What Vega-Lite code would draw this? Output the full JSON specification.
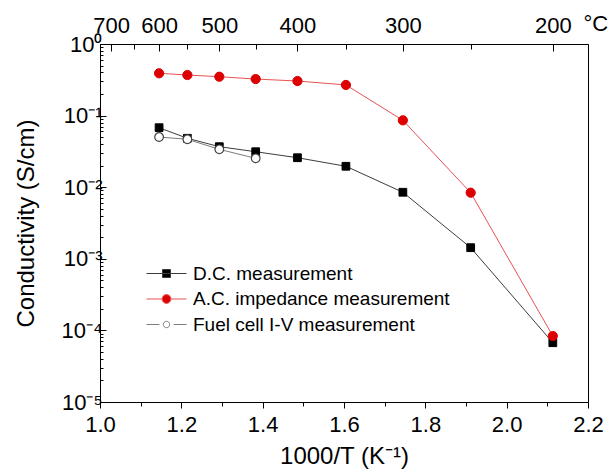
{
  "$schema": "https://vega.github.io/schema/vega-lite/v6.json",
  "width": 488,
  "height": 358,
  "autosize": {"type": "none"},
  "padding": {"left": 100, "top": 44, "right": 28, "bottom": 73},
  "background": "white",
  "config": {
    "view": {"stroke": "black", "strokeWidth": 1},
    "font": "Liberation Sans",
    "axis": {
      "labelFont": "Liberation Sans",
      "titleFont": "Liberation Sans",
      "labelColor": "black",
      "titleColor": "black",
      "domainColor": "black",
      "tickColor": "black",
      "grid": false,
      "titleFontWeight": "normal",
      "labelFontSize": 22,
      "titleFontSize": 24,
      "labelOverlap": false,
      "labelFlush": false
    }
  },
  "data": {
    "values": [
      {"series": "D.C. measurement", "x": 1.14528, "sigma": 0.0678},
      {"series": "D.C. measurement", "x": 1.21485, "sigma": 0.0482},
      {"series": "D.C. measurement", "x": 1.29341, "sigma": 0.0368},
      {"series": "D.C. measurement", "x": 1.38284, "sigma": 0.0313},
      {"series": "D.C. measurement", "x": 1.48555, "sigma": 0.0258},
      {"series": "D.C. measurement", "x": 1.60475, "sigma": 0.0196},
      {"series": "D.C. measurement", "x": 1.74475, "sigma": 0.0085},
      {"series": "D.C. measurement", "x": 1.9115, "sigma": 0.00143},
      {"series": "D.C. measurement", "x": 2.11349, "sigma": 0.0000673},
      {"series": "A.C. impedance measurement", "x": 1.14528, "sigma": 0.39},
      {"series": "A.C. impedance measurement", "x": 1.21485, "sigma": 0.369},
      {"series": "A.C. impedance measurement", "x": 1.29341, "sigma": 0.349},
      {"series": "A.C. impedance measurement", "x": 1.38284, "sigma": 0.324},
      {"series": "A.C. impedance measurement", "x": 1.48555, "sigma": 0.304},
      {"series": "A.C. impedance measurement", "x": 1.60475, "sigma": 0.268},
      {"series": "A.C. impedance measurement", "x": 1.74475, "sigma": 0.0859},
      {"series": "A.C. impedance measurement", "x": 1.9115, "sigma": 0.00838},
      {"series": "A.C. impedance measurement", "x": 2.11349, "sigma": 0.0000835},
      {"series": "Fuel cell I-V measurement", "x": 1.14528, "sigma": 0.0502},
      {"series": "Fuel cell I-V measurement", "x": 1.21485, "sigma": 0.0467},
      {"series": "Fuel cell I-V measurement", "x": 1.29341, "sigma": 0.0338},
      {"series": "Fuel cell I-V measurement", "x": 1.38284, "sigma": 0.0253}
    ]
  },
  "layer": [
    {
      "transform": [{"filter": "datum.series === 'D.C. measurement'"}],
      "mark": {"type": "line", "strokeWidth": 1, "stroke": "#3c3c3c"},
      "encoding": {
        "x": {
          "field": "x",
          "type": "quantitative",
          "scale": {"domain": [1.0, 2.2], "nice": false, "zero": false},
          "axis": {
            "orient": "bottom",
            "title": "1000/T (K⁻¹)",
            "values": [1.0, 1.1, 1.2, 1.3, 1.4, 1.5, 1.6, 1.7, 1.8, 1.9, 2.0, 2.1, 2.2],
            "labelExpr": "abs(datum.value*5 - round(datum.value*5)) < 0.001 ? format(datum.value, '.1f') : ''",
            "tickSize": {"condition": {"test": "abs(datum.value*5 - round(datum.value*5)) < 0.001", "value": 6}, "value": 4},
            "labelPadding": 6,
            "titlePadding": 9,
            "domain": true
          }
        },
        "y": {
          "field": "sigma",
          "type": "quantitative",
          "scale": {"type": "log", "domain": [0.00001, 1], "nice": false},
          "axis": {
            "title": "Conductivity (S/cm)",
            "values": [0.00001, 0.00002, 0.00003, 0.00004, 0.00005, 0.00006, 0.00007, 0.00008, 0.00009,
                       0.0001, 0.0002, 0.0003, 0.0004, 0.0005, 0.0006, 0.0007, 0.0008, 0.0009,
                       0.001, 0.002, 0.003, 0.004, 0.005, 0.006, 0.007, 0.008, 0.009,
                       0.01, 0.02, 0.03, 0.04, 0.05, 0.06, 0.07, 0.08, 0.09,
                       0.1, 0.2, 0.3, 0.4, 0.5, 0.6, 0.7, 0.8, 0.9, 1],
            "labelExpr": "abs(log(datum.value)/LN10 - round(log(datum.value)/LN10)) < 0.001 ? '10' + (round(log(datum.value)/LN10) === 0 ? '⁰' : '⁻' + ['⁰','¹','²','³','⁴','⁵'][-round(log(datum.value)/LN10)]) : ''",
            "tickSize": {"condition": {"test": "abs(log(datum.value)/LN10 - round(log(datum.value)/LN10)) < 0.001", "value": -6}, "value": -3},
            "labelPadding": 4,
            "titlePadding": 23
          }
        }
      }
    },
    {
      "transform": [{"filter": "datum.series === 'A.C. impedance measurement'"}],
      "mark": {"type": "line", "strokeWidth": 1, "stroke": "#e65252"},
      "encoding": {
        "x": {"field": "x", "type": "quantitative", "axis": null},
        "y": {"field": "sigma", "type": "quantitative"}
      }
    },
    {
      "transform": [{"filter": "datum.series === 'Fuel cell I-V measurement'"}],
      "mark": {"type": "line", "strokeWidth": 1, "stroke": "#7c7c7c"},
      "encoding": {
        "x": {"field": "x", "type": "quantitative", "axis": null},
        "y": {"field": "sigma", "type": "quantitative"}
      }
    },
    {
      "mark": {"type": "point", "opacity": 0},
      "encoding": {
        "x": {
          "field": "x",
          "type": "quantitative",
          "axis": {
            "orient": "top",
            "title": "°C",
            "titleX": 483,
            "titleY": -14,
            "titleAlign": "left",
            "titleBaseline": "alphabetic",
            "titleAngle": 0,
            "titleFontSize": 22,
            "values": [1.02759, 1.08325, 1.14528, 1.21485, 1.29341, 1.38284, 1.48555, 1.60475, 1.74475, 1.9115, 2.11349],
            "labelExpr": "round(1000/datum.value - 273.15) % 100 === 0 ? format(round(1000/datum.value - 273.15), 'd') : ''",
            "tickSize": {"condition": {"test": "round(1000/datum.value - 273.15) % 100 === 0", "value": -7}, "value": -5},
            "labelPadding": 14
          }
        },
        "y": {"field": "sigma", "type": "quantitative"},
        "shape": {
          "field": "series",
          "type": "nominal",
          "scale": {
            "domain": ["D.C. measurement", "A.C. impedance measurement", "Fuel cell I-V measurement"],
            "range": [
              "M-5,0H5M-1,-1H1V1H-1Z",
              "M-5,0H-1.1M1.1,0H5M1.1,0A1.1,1.1,0,1,1,-1.1,0A1.1,1.1,0,1,1,1.1,0Z",
              "M-5,0H-1.8M1.8,0H5M0.8,0A0.8,0.8,0,1,1,-0.8,0A0.8,0.8,0,1,1,0.8,0Z"
            ]
          },
          "legend": {
            "orient": "none",
            "legendX": 57,
            "legendY": 220,
            "title": null,
            "padding": 0,
            "labelFont": "Liberation Sans",
            "labelFontSize": 19,
            "labelColor": "black",
            "labelLimit": 0,
            "symbolSize": 64,
            "symbolOpacity": 1,
            "labelOffset": 17,
            "rowPadding": 5.5,
            "symbolStrokeWidth": 1
          }
        },
        "fill": {
          "field": "series",
          "type": "nominal",
          "scale": {"domain": ["D.C. measurement", "A.C. impedance measurement", "Fuel cell I-V measurement"], "range": ["black", "#dd0000", "white"]}
        },
        "stroke": {
          "field": "series",
          "type": "nominal",
          "scale": {"domain": ["D.C. measurement", "A.C. impedance measurement", "Fuel cell I-V measurement"], "range": ["#3c3c3c", "#e65252", "#7c7c7c"]}
        }
      }
    },
    {
      "transform": [{"filter": "datum.series === 'D.C. measurement'"}],
      "mark": {"type": "point", "shape": "square", "filled": true, "fill": "black", "stroke": "black", "strokeWidth": 1, "size": 60, "opacity": 1},
      "encoding": {
        "x": {"field": "x", "type": "quantitative", "axis": null},
        "y": {"field": "sigma", "type": "quantitative"}
      }
    },
    {
      "transform": [{"filter": "datum.series === 'A.C. impedance measurement'"}],
      "mark": {"type": "point", "shape": "circle", "filled": true, "fill": "#dd0000", "stroke": "#dd0000", "strokeWidth": 1, "size": 85, "opacity": 1},
      "encoding": {
        "x": {"field": "x", "type": "quantitative", "axis": null},
        "y": {"field": "sigma", "type": "quantitative"}
      }
    },
    {
      "transform": [{"filter": "datum.series === 'Fuel cell I-V measurement'"}],
      "mark": {"type": "point", "shape": "circle", "filled": false, "fill": "white", "stroke": "#444444", "strokeWidth": 1.2, "size": 75, "opacity": 1},
      "encoding": {
        "x": {"field": "x", "type": "quantitative", "axis": null},
        "y": {"field": "sigma", "type": "quantitative"}
      }
    }
  ],
  "resolve": {"axis": {"x": "independent"}}
}
